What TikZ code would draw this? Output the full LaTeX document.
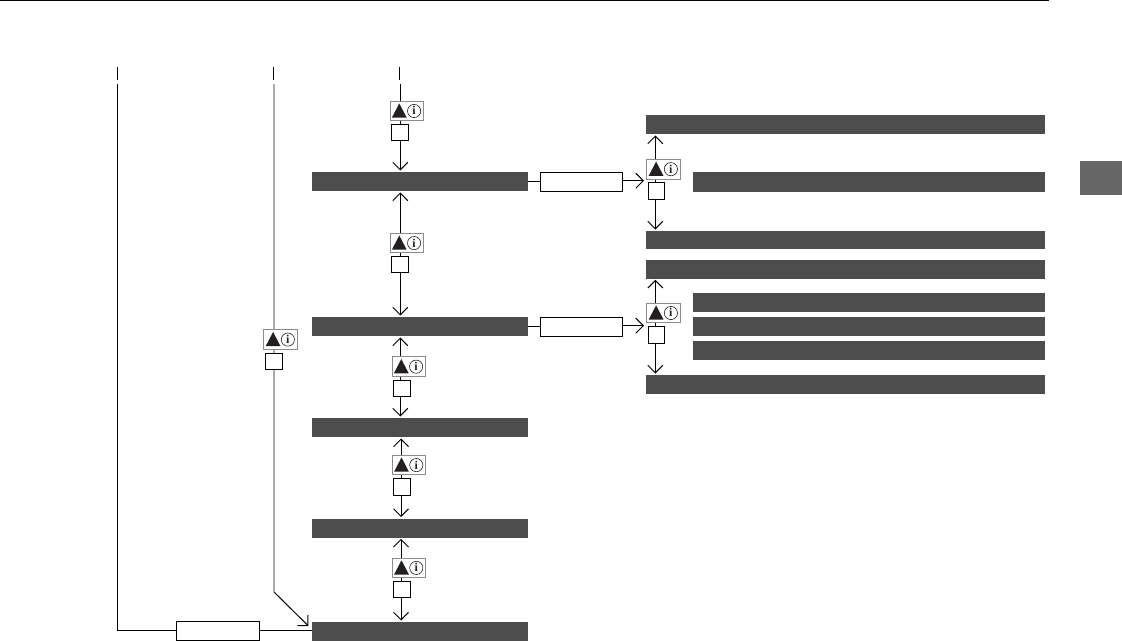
\documentclass[tikz,border=0pt]{standalone}
\usepackage{fontspec}
\setmainfont{Liberation Serif}
\usetikzlibrary{arrows.meta,calc}
\definecolor{barfill}{HTML}{4D4D4D}
\definecolor{tabfill}{HTML}{666666}
\definecolor{icongray}{HTML}{8C8C8C}
\definecolor{railgray}{HTML}{ABABAB}
\definecolor{icondark}{HTML}{231F20}
\tikzset{
  x=1bp,y=-1bp,
  barnode/.style={fill=barfill,draw=none,inner sep=0pt,outer sep=0pt},
  framebox/.style={draw=black,line width=1bp,fill=white,inner sep=0pt,outer sep=0pt},
  infobox/.style={draw=icongray,line width=0.9bp,fill=white,inner sep=0pt,outer sep=0pt,minimum width=33.6bp,minimum height=19.6bp},
  link/.style={draw=black,line width=1bp},
  arrowlink/.style={link,-{Straight Barb[length=7.5bp,width=15bp,line width=1bp]}},
  rail/.style={draw=railgray,line width=2bp},
  tick/.style={draw=black,line width=1bp},
}
% name, x0, y0, x1, y1
\newcommand{\barat}[5]{\node[barnode,minimum width=#4bp-#2bp,minimum height=#5bp-#3bp] (#1) at ({(#2+#4)/2},{(#3+#5)/2}) {};}
\newcommand{\boxat}[5]{\node[framebox,minimum width=#4bp-#2bp,minimum height=#5bp-#3bp] (#1) at ({(#2+#4)/2},{(#3+#5)/2}) {};}
% name, left, top
\newcommand{\infoat}[3]{%
  \node[infobox] (#1) at ({#2+16.8},{#3+9.8}) {};
  \fill[icondark] ({#2+1.8},{#3+16.4}) -- ({#2+9.2},{#3+2.2}) -- ({#2+16.6},{#3+16.4}) -- cycle;
  \draw[icondark,line width=0.6bp] ({#2+24},{#3+9.8}) circle[radius=6.6bp];
  \node[inner sep=0pt,text=icondark,font=\fontsize{12}{12}\selectfont\bfseries] (#1i) at ({#2+24},{#3+9.6}) {i};
}
\begin{document}
\begin{tikzpicture}
\useasboundingbox (0,0) rectangle (1122,641);
% page furniture
\fill[black] (0,0) rectangle (1049,1);
\fill[tabfill] (1080,161) rectangle (1122,195);
% bars
\barat{A}{312}{172}{528}{191}
\barat{B}{312}{317}{528}{336}
\barat{C}{312}{418}{528}{437}
\barat{D}{312}{519}{528}{538}
\barat{E}{312}{622}{528}{641}
\barat{Ra}{646}{115}{1045}{134}
\barat{Rb}{693}{172}{1045}{192}
\barat{Rc}{646}{231}{1045}{249}
\barat{Sa}{646}{260}{1045}{279}
\barat{Sb}{693}{293}{1045}{312}
\barat{Sc}{693}{317}{1045}{336}
\barat{Sd}{693}{341}{1045}{360}
\barat{Se}{646}{375}{1045}{394}
% named coordinates
\coordinate (tickL) at (117.6,66.8); \coordinate (tickLb) at (117.6,80);
\coordinate (tickM) at (273.4,66.8); \coordinate (tickMb) at (273.4,80);
\coordinate (tickR) at (399.4,66.8); \coordinate (tickRb) at (399.4,80);
\coordinate (startL) at (117.6,84);
\coordinate (startM) at (274,84);
\coordinate (startR) at (400.3,84);
\coordinate (bendM) at (274,592);
\coordinate (tipM) at (308.4,626);
\coordinate (xa) at (400.3,0);
\coordinate (xb) at (401,0);
\coordinate (xr) at (655.3,0);
\coordinate (tipAin) at (644,180.7);
\coordinate (tipBin) at (644,325.7);
% ticks
\draw[tick] (tickL) -- (tickLb);
\draw[tick] (tickM) -- (tickMb);
\draw[tick] (tickR) -- (tickRb);
% gray rail
\draw[rail] (startM) -- (bendM);
\draw[arrowlink] (bendM) -- (tipM);
% left route
\boxat{Lb}{176}{621}{259}{640.6}
\draw[link] (startL) |- (Lb.west);
\draw[link] (Lb.east) -- (Lb.east -| E.west);
% side boxes
\boxat{Ta}{540}{172.3}{622.3}{191.3}
\boxat{Tb}{540}{317.3}{622.3}{336.3}
\draw[link] (Ta.west -| A.east) -- (Ta.west);
\draw[link] (Tb.west -| B.east) -- (Tb.west);
\draw[arrowlink] (Ta.east |- tipAin) -- (tipAin);
\draw[arrowlink] (Tb.east |- tipBin) -- (tipBin);
% connectors
\draw[link] (startR) -- (xa |- 0,101.3);
\draw[link] (xa |- 0,120) -- (xa |- 0,125);
\draw[arrowlink] (xa |- 0,140) -- (xa |- 0,170.5);
\draw[arrowlink] (xa |- 0,234) -- (xa |- 0,192.5);
\draw[link] (xa |- 0,252) -- (xa |- 0,257);
\draw[arrowlink] (xa |- 0,272) -- (xa |- 0,315.5);
\draw[arrowlink] (xa |- 0,357) -- (xa |- 0,337.5);
\draw[link] (xa |- 0,376) -- (xa |- 0,381);
\draw[arrowlink] (xa |- 0,396) -- (xa |- 0,416.5);
\draw[arrowlink] (xb |- 0,456) -- (xb |- 0,438.5);
\draw[link] (xb |- 0,474) -- (xb |- 0,479);
\draw[arrowlink] (xb |- 0,495) -- (xb |- 0,517);
\draw[arrowlink] (xb |- 0,559) -- (xb |- 0,538.8);
\draw[link] (xb |- 0,577) -- (xb |- 0,582);
\draw[arrowlink] (xb |- 0,597) -- (xb |- 0,620.5);
\draw[arrowlink] (xr |- 0,160) -- (xr |- 0,135.5);
\draw[link] (xr |- 0,179) -- (xr |- 0,183);
\draw[arrowlink] (xr |- 0,199) -- (xr |- 0,229.5);
\draw[arrowlink] (xr |- 0,304) -- (xr |- 0,279.8);
\draw[link] (xr |- 0,323) -- (xr |- 0,327);
\draw[arrowlink] (xr |- 0,343) -- (xr |- 0,373.5);
% info icons and small boxes
\infoat{Ia}{390.1}{101.2}
\boxat{Ba}{391.4}{124.4}{408.6}{140.6}
\infoat{Ib}{390.1}{233.3}
\boxat{Bb}{391.4}{256.5}{408.6}{272.7}
\infoat{Ic}{392.1}{356.9}
\boxat{Bc}{393.4}{380.4}{410.6}{396.6}
\infoat{Id}{392.3}{455.3}
\boxat{Bd}{393.6}{478.5}{410.6}{495.5}
\infoat{Ie}{392.3}{558.1}
\boxat{Be}{393.6}{581.5}{410.6}{597.5}
\infoat{If}{263.9}{329.8}
\boxat{Bf}{265.4}{353.4}{282.8}{369.6}
\infoat{Ig}{646.9}{159.4}
\boxat{Bg}{648.4}{182.4}{664.6}{199.6}
\infoat{Ih}{646.9}{303.2}
\boxat{Bh}{648.4}{326.2}{664.6}{343.6}
\end{tikzpicture}
\end{document}
